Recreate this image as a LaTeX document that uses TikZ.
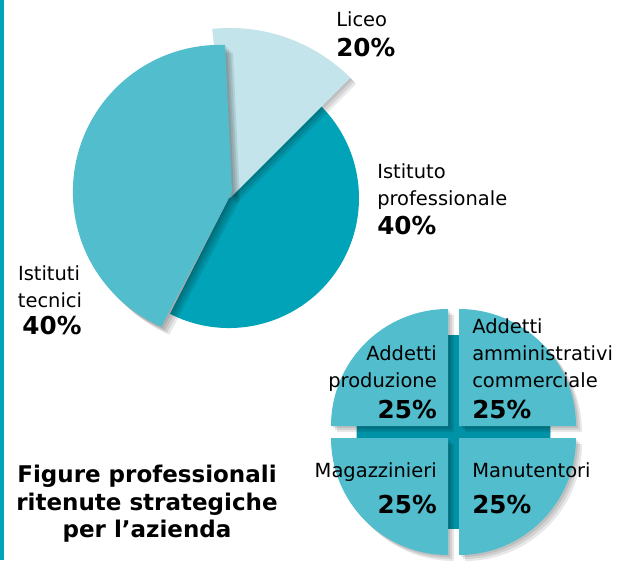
\documentclass[tikz,border=0pt]{standalone}
\usepackage{fontspec}
\setmainfont{DejaVu Sans}
\definecolor{tealdark}{HTML}{00A3B7}
\definecolor{tealmid}{HTML}{52BDCC}
\definecolor{teallight}{HTML}{C4E4EB}
\definecolor{tealdeep}{HTML}{0093A7}
\begin{document}
\begin{tikzpicture}[x=0.75pt,y=0.75pt,
   lab/.style={inner sep=0pt,font=\fontsize{14.6}{17}\selectfont},
   pct/.style={inner sep=0pt,font=\fontsize{18.5}{21}\selectfont\bfseries},
   ttl/.style={inner sep=0pt,font=\fontsize{17.25}{21}\selectfont\bfseries},
   shade/.style={fill=black,opacity=0.09}]
         \useasboundingbox (0,0) rectangle (617,-560) ;
         \fill[color=white] (0,0) rectangle (617,-560) ;
         \fill[color=tealdark] (0,0) rectangle (4,-560) ; % bar on the left
         % big pie
         \fill[color=tealdark] (229,-198) -- ++(-117:130)
            arc[start angle=-117,end angle=45,radius=130] -- cycle ;
         \foreach \s in {2,4,6}
            \fill[shade] (230+\s,-198-\s) -- ++(45:170)
            arc[start angle=45,end angle=96,radius=170] -- cycle ;
         \fill[color=teallight] (230,-198) -- ++(45:170)
            arc[start angle=45,end angle=96,radius=170] -- cycle ;
         \foreach \s in {2,4,6,8}
            \fill[shade] (232+\s,-192-\s) -- (225+\s,-45-\s)
            arc[start angle=88,end angle=246.5,radius=147] -- cycle ;
         \fill[color=tealmid] (232,-192) -- (225,-45)
            arc[start angle=88,end angle=246.5,radius=147] -- cycle ;
         % small pie
         \fill[color=tealdeep] (453.5,-432) circle (97) ;
         \foreach \s in {2,4,6} {
            \fill[shade] (448+\s,-426-\s) -- ++(90:117) arc[start angle=90,end angle=180,radius=117] -- cycle ;
            \fill[shade] (459+\s,-426-\s) -- ++(0:117) arc[start angle=0,end angle=90,radius=117] -- cycle ;
            \fill[shade] (448+\s,-438-\s) -- ++(180:117) arc[start angle=180,end angle=270,radius=117] -- cycle ;
            \fill[shade] (459+\s,-438-\s) -- ++(270:117) arc[start angle=270,end angle=360,radius=117] -- cycle ;
         }
         \fill[color=tealmid] (448,-426) -- ++(90:117) arc[start angle=90,end angle=180,radius=117] -- cycle ;
         \fill[color=tealmid] (459,-426) -- ++(0:117) arc[start angle=0,end angle=90,radius=117] -- cycle ;
         \fill[color=tealmid] (448,-438) -- ++(180:117) arc[start angle=180,end angle=270,radius=117] -- cycle ;
         \fill[color=tealmid] (459,-438) -- ++(270:117) arc[start angle=270,end angle=360,radius=117] -- cycle ;
         % labels
         \node[lab,anchor=base west] (liceo) at (336,-27) {Liceo} ;
         \node[pct,anchor=base west] (liceopct) at (336,-57) {20\%} ;
         \node[lab,anchor=base west] (prof1) at (377,-178) {Istituto} ;
         \node[lab,anchor=base west] (prof2) at (377,-205) {professionale} ;
         \node[pct,anchor=base west] (profpct) at (377,-234) {40\%} ;
         \node[lab,anchor=base] (tec1) at (49,-280) {Istituti} ;
         \node[lab,anchor=base] (tec2) at (50,-307) {tecnici} ;
         \node[pct,anchor=base] (tecpct) at (52,-334) {40\%} ;
         \node[lab,anchor=base east] (prod1) at (437,-360) {Addetti} ;
         \node[lab,anchor=base east] (prod2) at (437,-387) {produzione} ;
         \node[pct,anchor=base east] (prodpct) at (437,-418) {25\%} ;
         \node[lab,anchor=base west] (amm1) at (472,-333) {Addetti} ;
         \node[lab,anchor=base west] (amm2) at (472,-360) {amministrativi} ;
         \node[lab,anchor=base west] (amm3) at (472,-387) {commerciale} ;
         \node[pct,anchor=base west] (ammpct) at (472,-418) {25\%} ;
         \node[lab,anchor=base east] (mag) at (437,-477) {Magazzinieri} ;
         \node[pct,anchor=base east] (magpct) at (437,-513) {25\%} ;
         \node[lab,anchor=base west] (man) at (472,-477) {Manutentori} ;
         \node[pct,anchor=base west] (manpct) at (472,-513) {25\%} ;
         % title
         \node[ttl,anchor=base] (title1) at (147,-482) {Figure professionali} ;
         \node[ttl,anchor=base] (title2) at (147,-510) {ritenute strategiche} ;
         \node[ttl,anchor=base] (title3) at (147,-537) {per l’azienda} ;
      \end{tikzpicture}
\end{document}
